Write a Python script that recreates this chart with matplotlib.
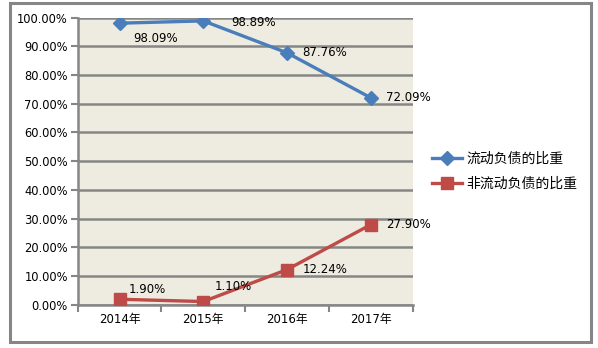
import matplotlib
matplotlib.use("Agg")
import matplotlib.pyplot as plt
from matplotlib.patches import Rectangle

plt.rcParams['font.family'] = ['DejaVu Sans', 'Noto Sans CJK SC']

years = ['2014年', '2015年', '2016年', '2017年']
current_ratio = [98.09, 98.89, 87.76, 72.09]
noncurrent_ratio = [1.90, 1.10, 12.24, 27.90]
series_names = ['流动负债的比重', '非流动负债的比重']
y_ticks = [0, 10, 20, 30, 40, 50, 60, 70, 80, 90, 100]

W, H = 598, 348
fig = plt.figure(figsize=(W / 100, H / 100), dpi=100)
fig.patch.set_facecolor('white')

# outer chart frame
fig.patches.append(Rectangle((10 / W, 1 - 342 / H), 581 / W, 339 / H,
                             transform=fig.transFigure, fill=False,
                             edgecolor='#868686', linewidth=2.2))

ax = fig.add_axes([77.7 / W, 1 - 304.7 / H, 335 / W, 287 / H])
ax.set_facecolor('#EEEBE0')

x = range(len(years))
blue = '#4A7EBB'
red = '#BE4B48'
ax.plot(x, current_ratio, color=blue, lw=2.4, marker='D', ms=7.5,
        label=series_names[0], zorder=3)
ax.plot(x, noncurrent_ratio, color=red, lw=2.4, marker='s', ms=8,
        label=series_names[1], zorder=3)

ax.set_xlim(-0.5, 3.5)
ax.set_ylim(0, 100)
ax.set_yticks(y_ticks)
ax.set_yticklabels([f'{v:.2f}%' for v in y_ticks], fontsize=8.3)
ax.set_xticks(x)
ax.set_xticklabels(years, fontsize=8.5)
ax.set_xticks([-0.5, 0.5, 1.5, 2.5, 3.5], minor=True)
ax.tick_params(axis='x', which='major', length=0, pad=6)
ax.tick_params(axis='x', which='minor', length=5, width=1.5, color='#868686')
ax.tick_params(axis='y', length=5, width=1.5, color='#868686', pad=2)
ax.yaxis.grid(True, color='#868686', lw=1.8)
ax.set_axisbelow(True)
for s in ['top', 'right']:
    ax.spines[s].set_visible(False)
for s in ['left', 'bottom']:
    ax.spines[s].set_color('#868686')
    ax.spines[s].set_linewidth(1.8)

# value labels
offsets_c = [(9.5, -11), (20, -1), (11, 0), (11, 0)]
offsets_n = [(6.5, 7), (8.5, 11), (11, 0), (11, 0)]
for i, v in enumerate(current_ratio):
    ax.annotate(f'{v:.2f}%', (i, v), xytext=offsets_c[i], textcoords='offset points',
                fontsize=8.5, va='center', ha='left')
for i, v in enumerate(noncurrent_ratio):
    ax.annotate(f'{v:.2f}%', (i, v), xytext=offsets_n[i], textcoords='offset points',
                fontsize=8.5, va='center', ha='left')

leg = fig.legend(loc='upper left', bbox_to_anchor=(432 / W, 1 - 152 / H),
                 frameon=False, handlelength=2.16, borderpad=0, borderaxespad=0,
                 prop={'family': ['Noto Sans CJK SC'], 'size': 10},
                 labelspacing=0.75, handletextpad=0.3)

fig.savefig('out.png', dpi=100, facecolor='white')
